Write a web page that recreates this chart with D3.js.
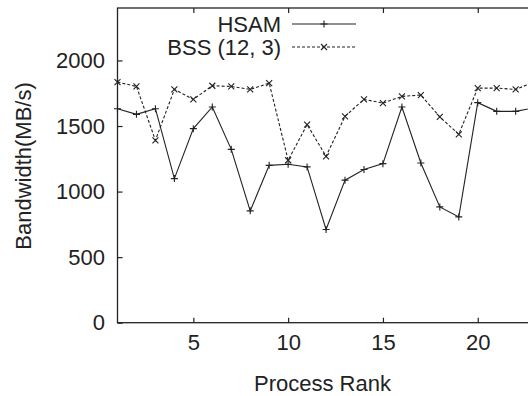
<!DOCTYPE html>
<html>
<head>
<meta charset="utf-8">
<script src="https://cdn.jsdelivr.net/npm/d3@7"></script>
<style>
  body { margin: 0; background: #fff; }
  svg { display: block; }
  text { font-family: "Liberation Sans", Arial, Helvetica, sans-serif; fill: #222; }
</style>
</head>
<body>
<script>
// données
const ranks = [1, 2, 3, 4, 5, 6, 7, 8, 9, 10, 11, 12, 13, 14, 15, 16, 17, 18, 19, 20, 21, 22, 23];
const hsam = [1632, 1589, 1632, 1099, 1480, 1645, 1322, 853, 1200, 1208, 1188, 711,
              1087, 1168, 1213, 1645, 1218, 883, 807, 1678, 1612, 1612, 1640];
const bss = [1835, 1802, 1391, 1779, 1703, 1807, 1802, 1779, 1827, 1239, 1511, 1269,
             1574, 1703, 1675, 1726, 1736, 1569, 1437, 1789, 1789, 1779, 1837];
const seriesNames = ["HSAM", "BSS (12, 3)"];
const xTicks = [5, 10, 15, 20];
const yTicks = [0, 500, 1000, 1500, 2000];

const W = 528, H = 396;
const plotLeft = 117.5, plotTop = 8, plotBottom = 322.7;
const fs = 22;
const ink = "#222";

let svg = d3.select("body").append("svg")
    .attr("width", W)
    .attr("height", H);

let x = d3.scaleLinear().domain([1, 24]).range([plotLeft, plotLeft + 23 * 18.96]);
let y = d3.scaleLinear().domain([0, 2400]).range([plotBottom, plotTop]);

// cadre
svg.append("rect")
    .attr("x", x(1)).attr("y", y(2400))
    .attr("width", x(24) - x(1)).attr("height", y(0) - y(2400))
    .attr("fill", "none").attr("stroke", ink).attr("stroke-width", 1.3);

// axes
let gx = svg.append("g")
    .attr("transform", "translate(0," + y(0) + ")")
    .call(d3.axisBottom(x).tickValues(xTicks).tickSizeInner(-5).tickSizeOuter(0).tickPadding(11.7));
let gxTop = svg.append("g")
    .attr("transform", "translate(0," + y(2400) + ")")
    .call(d3.axisTop(x).tickValues(xTicks).tickSizeInner(-5).tickSizeOuter(0).tickFormat(""));
let gy = svg.append("g")
    .attr("transform", "translate(" + x(1) + ",0)")
    .call(d3.axisLeft(y).tickValues(yTicks).tickFormat(d3.format("d"))
        .tickSizeInner(-5).tickSizeOuter(0).tickPadding(12.5));

[gx, gxTop, gy].forEach(g => {
    g.select(".domain").remove();
    g.selectAll(".tick line").attr("stroke", ink).attr("stroke-width", 1.2);
    g.selectAll("text")
        .attr("font-size", fs)
        .attr("fill", ink);
});

// titres
svg.append("text")
    .attr("x", 322.5)
    .attr("y", 391)
    .attr("text-anchor", "middle")
    .attr("font-size", fs)
    .text("Process Rank");

svg.append("text")
    .attr("transform", "translate(31,166) rotate(-90)")
    .attr("text-anchor", "middle")
    .attr("font-size", fs)
    .text("Bandwidth(MB/s)");

// courbes
const plusPath = "M-3.5,0H3.5M0,-3.5V3.5";
const crossPath = "M-3,-3L3,3M-3,3L3,-3";

let line = d3.line()
    .x((d, i) => x(ranks[i]))
    .y(d => y(d));

const series = [
    { name: seriesNames[0], values: hsam, dash: null, marker: plusPath, ly: 24 },
    { name: seriesNames[1], values: bss, dash: "3,2", marker: crossPath, ly: 47 }
];

series.forEach(s => {
    svg.append("path")
        .datum(s.values)
        .attr("d", line)
        .attr("fill", "none")
        .attr("stroke", ink)
        .attr("stroke-width", 1.1)
        .attr("stroke-dasharray", s.dash);

    svg.selectAll(null)
        .data(s.values)
        .enter()
        .append("path")
        .attr("transform", (d, i) => "translate(" + x(ranks[i]) + "," + y(d) + ")")
        .attr("d", s.marker)
        .attr("stroke", ink)
        .attr("stroke-width", 1.1)
        .attr("fill", "none");

    // légende
    svg.append("text")
        .attr("x", 281)
        .attr("y", s.ly + 8)
        .attr("text-anchor", "end")
        .attr("font-size", fs)
        .text(s.name);
    svg.append("line")
        .attr("x1", 292).attr("x2", 356)
        .attr("y1", s.ly).attr("y2", s.ly)
        .attr("stroke", ink)
        .attr("stroke-width", 1.1)
        .attr("stroke-dasharray", s.dash);
    svg.append("path")
        .attr("transform", "translate(324," + s.ly + ")")
        .attr("d", s.marker)
        .attr("stroke", ink)
        .attr("stroke-width", 1.1)
        .attr("fill", "none");
});
</script>
</body>
</html>
